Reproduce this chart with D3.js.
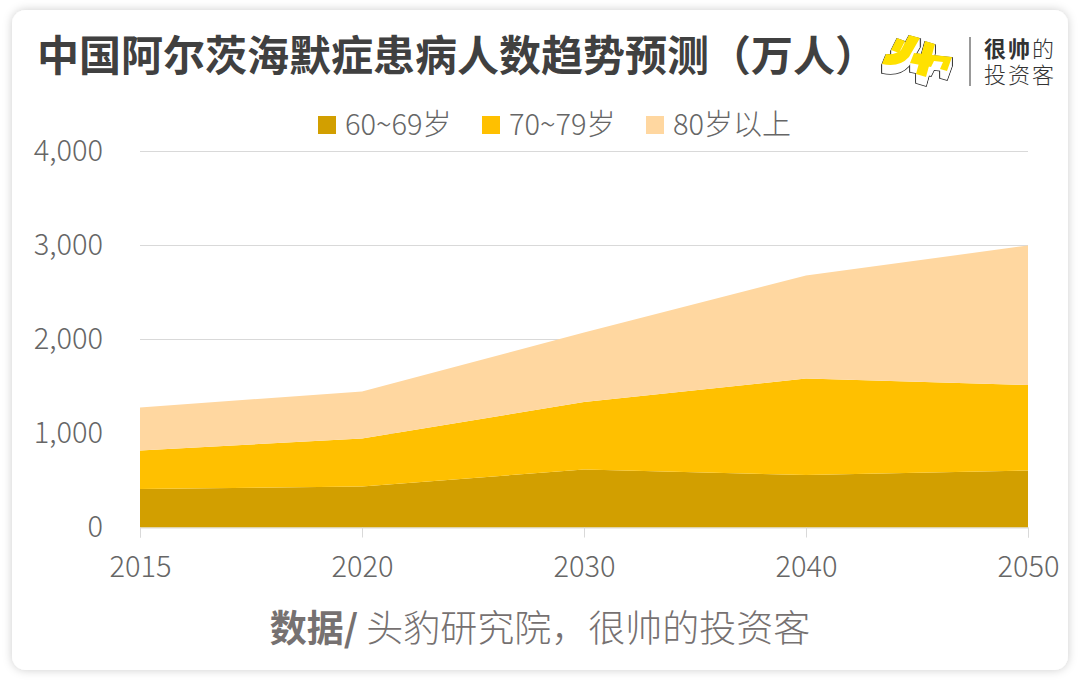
<!DOCTYPE html>
<html>
<head>
<meta charset="utf-8">
<script src="https://cdn.jsdelivr.net/npm/d3@7/dist/d3.min.js"></script>
<style>
  html, body { margin: 0; padding: 0; background: #fff; }
  svg { display: block; }
  text { font-family: "Noto Sans CJK SC", "Noto Sans", sans-serif; }
</style>
</head>
<body>
<svg id="chart" width="1080" height="680"></svg>
<script>
// data (万人)
var years = ["2015", "2020", "2030", "2040", "2050"];
var seriesNames = ["60~69岁", "70~79岁", "80岁以上"];
var age60 = [410, 436, 617, 558, 606];
var age70 = [409, 511, 718, 1027, 909];
var age80 = [458, 500, 739, 1096, 1485];
var yTicks = [0, 1000, 2000, 3000, 4000];
var colors = ["#d29f00", "#ffc000", "#ffd7a0"];

var svg = d3.select("#chart");

var margin = {top: 151.5, right: 52, bottom: 152.5, left: 140},
    width = 1080 - margin.left - margin.right,
    height = 680 - margin.top - margin.bottom;

// card with soft shadow
var defs = svg.append("defs");
var shadow = defs.append("filter").attr("id", "cardShadow")
    .attr("x", "-5%").attr("y", "-5%").attr("width", "110%").attr("height", "110%");
shadow.append("feDropShadow")
    .attr("dx", 0).attr("dy", 0).attr("stdDeviation", 5)
    .attr("flood-color", "#000").attr("flood-opacity", 0.2);

svg.append("rect")
    .attr("x", 12).attr("y", 10).attr("width", 1056).attr("height", 660)
    .attr("rx", 14).attr("fill", "#fff")
    .attr("filter", "url(#cardShadow)");

// title
svg.append("text")
    .attr("x", 37).attr("y", 71)
    .attr("font-size", 42).attr("font-weight", 700).attr("fill", "#404040")
    .text("中国阿尔茨海默症患病人数趋势预测（万人）");

// scales
var xscl = d3.scalePoint().domain(years).range([margin.left, margin.left + width]);
var yscl = d3.scaleLinear().domain([0, 4000]).range([margin.top + height, margin.top]);

// gridlines
svg.append("g").selectAll("line")
    .data(yTicks.slice(1))
    .join("line")
    .attr("x1", margin.left).attr("x2", margin.left + width)
    .attr("y1", function(d) { return yscl(d); })
    .attr("y2", function(d) { return yscl(d); })
    .attr("stroke", "#d9d9d9").attr("stroke-width", 1);

// stacked areas
var table = years.map(function(y, i) {
  return {year: y, a: age60[i], b: age70[i], c: age80[i]};
});
var stacked = d3.stack().keys(["a", "b", "c"])(table);
var area = d3.area()
    .x(function(d) { return xscl(d.data.year); })
    .y0(function(d) { return yscl(d[0]); })
    .y1(function(d) { return yscl(d[1]); });

svg.append("g").selectAll("path")
    .data(stacked)
    .join("path")
    .attr("d", area)
    .attr("fill", function(d, i) { return colors[i]; });

// x axis
var xAxis = svg.append("g")
    .attr("transform", "translate(0," + (margin.top + height) + ")")
    .call(d3.axisBottom(xscl).tickSize(10).tickPadding(19));
xAxis.select(".domain").attr("stroke", "#d9d9d9").attr("stroke-width", 1);
xAxis.selectAll(".tick line").attr("stroke", "#d9d9d9");
xAxis.selectAll("text")
    .attr("font-family", "'Noto Sans CJK SC'").attr("font-size", 29)
    .attr("font-weight", 300).attr("fill", "#666");

// y axis
var yAxis = svg.append("g")
    .attr("transform", "translate(" + margin.left + ",0)")
    .call(d3.axisLeft(yscl).tickValues(yTicks).tickFormat(d3.format(",")).tickSize(0).tickPadding(37));
yAxis.select(".domain").remove();
yAxis.selectAll("text")
    .attr("font-family", "'Noto Sans CJK SC'").attr("font-size", 29)
    .attr("font-weight", 300).attr("fill", "#666");

// legend
var legendX = [318, 482, 646];
var legend = svg.append("g").selectAll("g")
    .data(seriesNames)
    .join("g")
    .attr("transform", function(d, i) { return "translate(" + legendX[i] + ",116)"; });
legend.append("rect")
    .attr("width", 18).attr("height", 18)
    .attr("fill", function(d, i) { return colors[i]; });
legend.append("text")
    .attr("x", 27).attr("y", 19)
    .attr("font-size", 29).attr("font-weight", 300).attr("fill", "#666")
    .text(function(d) { return d; });

// source line
var source = svg.append("text")
    .attr("x", 540).attr("y", 642).attr("text-anchor", "middle")
    .attr("font-size", 37).attr("fill", "#767171");
source.append("tspan").attr("font-weight", 700).text("数据/ ");
source.append("tspan").attr("font-weight", 300).text("头豹研究院，很帅的投资客");

// logo: yellow strokes over a white block extruded straight down
var logo = svg.append("g");
var shapes = [
  "M897 38 L905 41 L899 53 L891 50 Z",
  "M909 35 L920 38 L909 57 Q899 68 882 64 L886 54 Q896 55 901 50 Z",
  "M914 53 L952 57 L947 71 L940 69 L943 62 L934 61 L931 67 L910 63 Z",
  "M925 41 L935 44 L926 77 L916 74 Z"
];
var depth = [1, 2, 3, 4, 5, 6, 7, 8, 9];
var layers = [];
depth.forEach(function(dy) {
  shapes.forEach(function(s) { layers.push({d: s, dy: dy}); });
});
logo.selectAll("path.edge")
    .data(layers)
    .join("path")
    .attr("class", "edge")
    .attr("transform", function(d) { return "translate(0," + d.dy + ")"; })
    .attr("d", function(d) { return d.d; })
    .attr("fill", "#333").attr("stroke", "#333").attr("stroke-width", 1.6);
logo.selectAll("path.side")
    .data(layers)
    .join("path")
    .attr("class", "side")
    .attr("transform", function(d) { return "translate(0," + d.dy + ")"; })
    .attr("d", function(d) { return d.d; })
    .attr("fill", "#fff");
logo.selectAll("path.face")
    .data(shapes)
    .join("path")
    .attr("class", "face")
    .attr("d", function(d) { return d; })
    .attr("fill", "#ffe100");
logo.append("line")
    .attr("x1", 970).attr("x2", 970).attr("y1", 37).attr("y2", 86)
    .attr("stroke", "#555").attr("stroke-width", 1.2);
logo.append("text").attr("x", 984).attr("y", 57)
    .attr("font-size", 22).attr("letter-spacing", 2).attr("fill", "#333")
    .html('<tspan font-weight="700">很帅</tspan><tspan font-weight="300">的</tspan>');
logo.append("text").attr("x", 984).attr("y", 83)
    .attr("font-size", 22).attr("letter-spacing", 2).attr("fill", "#333").attr("font-weight", 300)
    .text("投资客");
</script>
</body>
</html>
